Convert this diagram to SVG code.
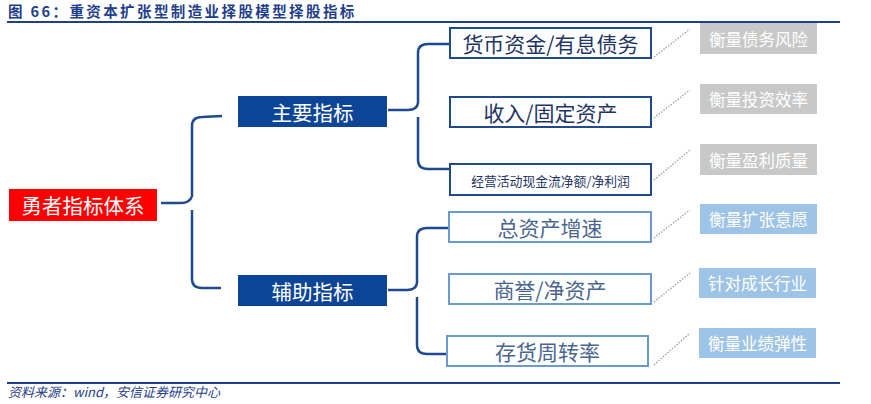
<svg xmlns="http://www.w3.org/2000/svg" width="871" height="404" viewBox="0 0 871 404">
<style>
text{font-family:"Noto Sans CJK SC","Noto Sans",sans-serif;}
.title{font-size:14.5px;font-weight:bold;fill:#1F3E8C;letter-spacing:2.4px;}
.src{font-size:13px;font-style:italic;fill:#1F3E8C;}
.root{fill:#FF0000;}
.lvl1{fill:#0D4596;}
.wt{fill:#FFFFFF;text-anchor:middle;dominant-baseline:central;}
.top{fill:#FFFFFF;stroke:#1F4B8E;stroke-width:2;}
.bot{fill:#FFFFFF;stroke:#6C9AD0;stroke-width:2;}
.tt{fill:#1F3566;text-anchor:middle;dominant-baseline:central;font-size:21px;}
.bt{fill:#4A6690;text-anchor:middle;dominant-baseline:central;font-size:21px;}
.gray{fill:#C8C8C8;}
.blue{fill:#9DC3E6;}
.brace{fill:none;stroke:#1F4B8E;stroke-width:2.5;}
.dot{stroke:#A8A8A8;stroke-width:1.5;stroke-dasharray:1.5 1.5;fill:none;}
</style>
<line x1="7" y1="22" x2="840" y2="22" stroke="#1F3E8C" stroke-width="2"/>
<text class="title" x="8" y="17">图 66：重资本扩张型制造业择股模型择股指标</text>
<line x1="7" y1="383" x2="840" y2="383" stroke="#1F3E8C" stroke-width="2"/>
<text class="src" x="8" y="397">资料来源：wind，安信证券研究中心</text>

<g id="connectors">
<path class="brace" d="M161,203 L181,203 Q190,203 192,196 L192,126 Q192,117 202,117 L222,116"/>
<path class="brace" d="M192,210 L192,279 Q192,288 202,288 L221,288"/>
<path class="brace" d="M388,110 L408,110 Q417,110 418,103 L418,53 Q418,44 428,44 L450,44"/>
<path class="brace" d="M418,117 L418,160 Q418,169 428,169 L450,169"/>
<path class="brace" d="M388,290 L407,290 Q416,290 417,283 L417,237 Q417,228 427,228 L449,228"/>
<path class="brace" d="M417,297 L417,345 Q417,354 427,354 L447,354"/>
<line class="dot" x1="654" y1="57" x2="690" y2="29"/>
<line class="dot" x1="654" y1="118" x2="690" y2="90"/>
<line class="dot" x1="654" y1="180" x2="690" y2="150"/>
<line class="dot" x1="654" y1="238" x2="690" y2="210"/>
<line class="dot" x1="654" y1="302" x2="690" y2="273"/>
<line class="dot" x1="654" y1="365" x2="690" y2="333"/>
</g>

<g id="root"><rect class="root" x="9" y="189" width="148" height="32"/><text class="wt" x="83" y="205" style="font-size:20.5px">勇者指标体系</text></g>
<g id="main"><rect class="lvl1" x="238" y="96" width="149" height="31"/><text class="wt" x="312.5" y="111.5" style="font-size:20.5px">主要指标</text></g>
<g id="aux"><rect class="lvl1" x="238" y="275" width="149" height="31"/><text class="wt" x="312.5" y="290.5" style="font-size:20.5px">辅助指标</text></g>

<g id="m1"><rect class="top" x="450" y="28" width="201" height="30"/><text class="tt" x="550.5" y="43">货币资金/有息债务</text></g>
<g id="m2"><rect class="top" x="450" y="97" width="201" height="30"/><text class="tt" x="550.5" y="112">收入/固定资产</text></g>
<g id="m3"><rect class="top" x="450" y="164" width="201" height="31"/><text class="tt" x="550.5" y="180" style="font-size:12.8px">经营活动现金流净额/净利润</text></g>

<g id="a1"><rect class="bot" x="449" y="212" width="202" height="30"/><text class="bt" x="550" y="227">总资产增速</text></g>
<g id="a2"><rect class="bot" x="449" y="274" width="202" height="30"/><text class="bt" x="550" y="289">商誉/净资产</text></g>
<g id="a3"><rect class="bot" x="447" y="336" width="201" height="30"/><text class="bt" x="547.5" y="351">存货周转率</text></g>

<g id="r1"><rect class="gray" x="700" y="23" width="117" height="31"/><text class="wt" x="758.5" y="38.5" style="font-size:16.5px">衡量债务风险</text></g>
<g id="r2"><rect class="gray" x="700" y="84" width="117" height="30"/><text class="wt" x="758.5" y="99" style="font-size:16.5px">衡量投资效率</text></g>
<g id="r3"><rect class="gray" x="700" y="144" width="117" height="31"/><text class="wt" x="758.5" y="159.5" style="font-size:16.5px">衡量盈利质量</text></g>
<g id="r4"><rect class="blue" x="700" y="204" width="117" height="30"/><text class="wt" x="758.5" y="219" style="font-size:16.5px">衡量扩张意愿</text></g>
<g id="r5"><rect class="blue" x="699" y="268" width="117" height="30"/><text class="wt" x="757.5" y="283" style="font-size:16.5px">针对成长行业</text></g>
<g id="r6"><rect class="blue" x="699" y="328" width="117" height="30"/><text class="wt" x="757.5" y="343" style="font-size:16.5px">衡量业绩弹性</text></g>
</svg>
